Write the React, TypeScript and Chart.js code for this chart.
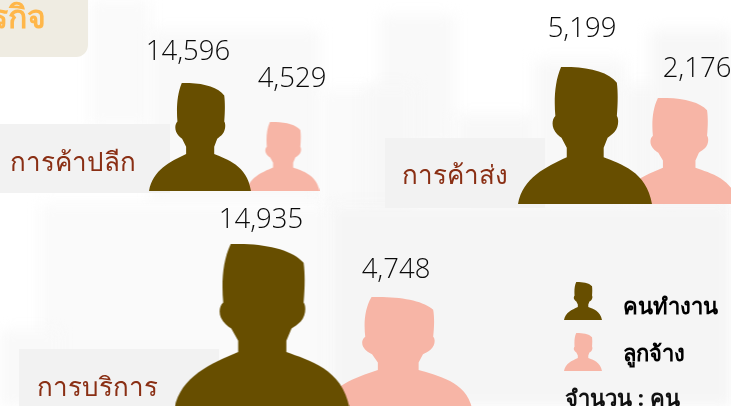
import React, { useEffect, useRef } from "react";
import { Chart, registerables } from "chart.js";

Chart.register(...registerables);

const categories = ["การค้าปลีก", "การค้าส่ง", "การบริการ"];
const workers = [14596, 5199, 14935];
const employees = [4529, 2176, 4748];
const seriesNames = ["คนทำงาน", "ลูกจ้าง"];
const unitNote = "จำนวน : คน";
const pageTitle = "ธุรกิจ";

const WORKER = "#674e00";
const EMPLOYEE = "#f7b5a6";
const FONT = "'Open Sans', 'Noto Sans', sans-serif";
const THAI = "'Noto Sans', 'Open Sans', 'DejaVu Sans', sans-serif";

// Placement of the pictograms on the page (layout, not data)
const workerLayout = [
  { cx: 200, base: 191, w: 102, h: 108, lx: 188, ly: 60 },
  { cx: 585, base: 204, w: 134, h: 137, lx: 582, ly: 37 },
  { cx: 262, base: 408, w: 175, h: 164, lx: 261, ly: 228 },
];
const employeeLayout = [
  { cx: 283, base: 191, w: 73, h: 69, lx: 292, ly: 87 },
  { cx: 679, base: 204, w: 118, h: 106, lx: 697, ly: 77 },
  { cx: 398, base: 408, w: 148, h: 111, lx: 396, ly: 278 },
];
const categoryBoxes = [
  { x: 0, y: 124, w: 170, h: 69, tx: 73, ty: 171 },
  { x: 385, y: 138, w: 160, h: 70, tx: 455, ty: 184 },
  { x: 19, y: 349, w: 200, h: 57, tx: 97, ty: 396 },
];
const backdrop = [
  { x: 90, y: 0, w: 60, h: 125, c: "#fafafa" },
  { x: 150, y: 30, w: 170, h: 170, c: "#f9f9f9" },
  { x: 320, y: 90, w: 60, h: 120, c: "#fafafa" },
  { x: 380, y: 15, w: 75, h: 130, c: "#f9f9f9" },
  { x: 365, y: 85, w: 50, h: 130, c: "#f7f7f7" },
  { x: 455, y: 115, w: 80, h: 90, c: "#f8f8f8" },
  { x: 535, y: 60, w: 90, h: 150, c: "#f8f8f8" },
  { x: 620, y: 85, w: 50, h: 120, c: "#f8f8f8" },
  { x: 650, y: 30, w: 81, h: 180, c: "#f7f7f7" },
  { x: 40, y: 205, w: 290, h: 201, c: "#fafafa" },
  { x: 330, y: 205, w: 401, h: 201, c: "#f5f5f5" },
  { x: 0, y: 330, w: 60, h: 76, c: "#f9f9f9" },
];
const legendPlace = { left: 529, top: 272 };

const PERSON = new Path2D(
  "M545 250 C600 248 652 260 672 287 C675 310 674 340 672 365 C677 372 676 392 667 402 C662 408 656 412 651 416 L642 440 L642 462 C680 478 740 495 752 572 L447 572 C458 510 510 485 558 462 L558 440 L546 416 C540 412 532 405 528 395 C524 385 525 372 532 365 C529 330 530 285 545 250 Z"
);

function person(w: number, h: number, color: string, extraBottom = 0) {
  const c = document.createElement("canvas");
  c.width = w;
  c.height = h + extraBottom;
  const g = c.getContext("2d")!;
  g.scale(w / 305, h / 322);
  g.translate(-447, -250);
  g.fillStyle = color;
  g.fill(PERSON);
  return c;
}

const pagePlugin = {
  id: "page",
  beforeDraw(chart: any) {
    chart.legend.left = legendPlace.left;
    chart.legend.top = legendPlace.top;
    const g = chart.ctx;
    g.save();
    g.fillStyle = "#ffffff";
    g.fillRect(0, 0, 731, 406);
    g.filter = "blur(7px)";
    backdrop.forEach((b) => {
      g.fillStyle = b.c;
      g.fillRect(b.x, b.y, b.w, b.h);
    });
    g.filter = "none";
    // title tab, cut off by the page edge
    g.fillStyle = "#efece2";
    g.beginPath();
    g.roundRect(-20, -20, 108, 77, 12);
    g.fill();
    g.fillStyle = "#ffb74a";
    g.font = `bold 32px ${THAI}`;
    g.textAlign = "right";
    g.fillText(pageTitle, 46, 28);
    // category plates
    categories.forEach((name, i) => {
      const b = categoryBoxes[i];
      g.fillStyle = "#f2f2f2";
      g.fillRect(b.x, b.y, b.w, b.h);
      g.fillStyle = "#8a2f14";
      g.font = `26px ${THAI}`;
      g.textAlign = "center";
      g.fillText(name, b.tx, b.ty);
    });
    g.restore();
  },
  afterDatasetsDraw(chart: any) {
    const g = chart.ctx;
    g.save();
    g.fillStyle = "#0a0a0a";
    g.font = `300 27.5px ${FONT}`;
    g.textAlign = "center";
    const layouts = [workerLayout, employeeLayout];
    const series = [workers, employees];
    series.forEach((vals, d) => {
      const meta = chart.getDatasetMeta(d);
      vals.forEach((v, i) => {
        const el = meta.data[i];
        const l = layouts[d][i];
        g.fillText(v.toLocaleString("en-US"), el.x + (l.lx - l.cx), l.ly);
      });
    });
    g.fillStyle = "#111111";
    g.font = `bold 22px ${THAI}`;
    g.textAlign = "left";
    g.fillText(unitNote, 565, 406);
    g.restore();
  },
};

export default function App() {
  const ref = useRef<HTMLCanvasElement>(null);
  useEffect(() => {
    const build = (vals: number[], lay: typeof workerLayout) =>
      vals.map((v, i) => ({ x: lay[i].cx, y: lay[i].base - lay[i].h / 2, value: v }));
    const chart = new Chart(ref.current!, {
      type: "scatter",
      data: {
        datasets: [
          {
            label: seriesNames[0],
            data: build(workers, workerLayout),
            pointStyle: workerLayout.map((l) => person(l.w, l.h, WORKER)),
            backgroundColor: WORKER,
            clip: false,
          },
          {
            label: seriesNames[1],
            data: build(employees, employeeLayout),
            pointStyle: employeeLayout.map((l) => person(l.w, l.h, EMPLOYEE)),
            backgroundColor: EMPLOYEE,
            clip: false,
          },
        ] as any,
      },
      options: {
        animation: false,
        responsive: false,
        layout: { padding: 0, autoPadding: false },
        scales: {
          x: { type: "linear", min: 0, max: 731, display: false },
          y: { type: "linear", min: 0, max: 406, reverse: true, display: false },
        },
        plugins: {
          tooltip: { enabled: false },
          legend: {
            position: "chartArea" as any,
            align: "start",
            onClick: () => {},
            labels: {
              usePointStyle: true,
              pointStyleWidth: 58,
              padding: 25,
              color: "#111111",
              font: { family: THAI, size: 22, weight: "bold" },
              generateLabels: () => [
                { text: seriesNames[0], pointStyle: person(38, 38, WORKER, 14), fillStyle: WORKER, strokeStyle: WORKER, lineWidth: 0, datasetIndex: 0 },
                { text: seriesNames[1], pointStyle: person(38, 38, EMPLOYEE, 6), fillStyle: EMPLOYEE, strokeStyle: EMPLOYEE, lineWidth: 0, datasetIndex: 1 },
              ],
            },
          } as any,
        },
      },
      plugins: [pagePlugin],
    });
    return () => chart.destroy();
  }, []);
  return (
    <div style={{ position: "fixed", left: 0, top: 0, width: 731, height: 406, overflow: "hidden" }}>
      <canvas ref={ref} width={731} height={406} style={{ display: "block" }} />
    </div>
  );
}
